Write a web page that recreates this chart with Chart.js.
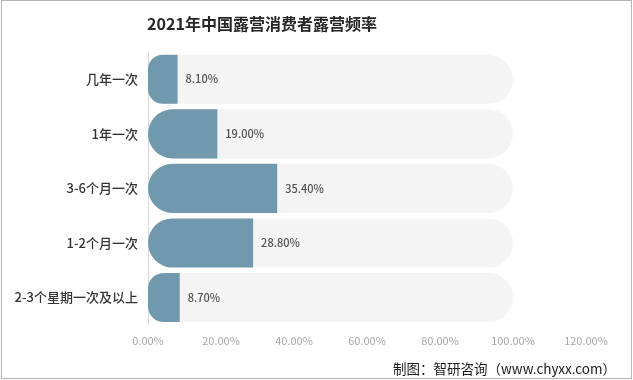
<!DOCTYPE html>
<html lang="zh">
<head>
  <meta charset="UTF-8">
  <title>2021年中国露营消费者露营频率</title>
  <script src="https://cdn.jsdelivr.net/npm/chart.js"></script>
  <style>
    body { margin: 0; padding: 0; background: #fff; }
    .wrap { width: 633px; height: 380px; position: relative; }
  </style>
</head>
<body>
  <div class="wrap"><canvas id="freqChart"></canvas></div>

  <script>
    const categories = ['几年一次', '1年一次', '3-6个月一次', '1-2个月一次', '2-3个星期一次及以上'];
    const shares = [8.1, 19.0, 35.4, 28.8, 8.7];
    const trackValues = [100, 100, 100, 100, 100];
    const xTicks = [0, 20, 40, 60, 80, 100, 120];

    const CJK = "'Noto Sans CJK SC', 'Noto Sans', sans-serif";

    // 회색 배경 트랙 + 막대 끝 값 표시 + 제목/출처/테두리
    const decor = {
      id: 'decor',
      beforeDatasetsDraw(chart) {
        const ctx = chart.ctx;
        const xs = chart.scales.x;
        const meta = chart.getDatasetMeta(0);
        ctx.save();
        ctx.fillStyle = '#f4f4f4';
        meta.data.forEach((bar, i) => {
          const x0 = xs.getPixelForValue(0);
          const x1 = xs.getPixelForValue(trackValues[i]);
          const h = bar.height;
          ctx.beginPath();
          ctx.roundRect(x0, bar.y - h / 2, x1 - x0, h, h / 2);
          ctx.fill();
        });
        ctx.restore();
      },
      afterDatasetsDraw(chart) {
        const ctx = chart.ctx;
        const meta = chart.getDatasetMeta(0);
        ctx.save();
        ctx.font = '500 11px ' + CJK;
        ctx.fillStyle = '#505050';
        ctx.textAlign = 'left';
        ctx.textBaseline = 'middle';
        meta.data.forEach((bar, i) => {
          ctx.fillText(shares[i].toFixed(2) + '%', bar.x + 8, bar.y);
        });
        ctx.restore();
      },
      afterDraw(chart) {
        const ctx = chart.ctx;
        ctx.save();
        ctx.fillStyle = '#262626';
        ctx.textAlign = 'center';
        ctx.textBaseline = 'middle';
        ctx.font = 'bold 16px ' + CJK;
        ctx.fillText('2021年中国露营消费者露营频率', 262, 24);

        ctx.textAlign = 'right';
        ctx.fillStyle = '#1a1a1a';
        ctx.font = '13.5px ' + CJK;
        ctx.fillText('制图：智研咨询（www.chyxx.com）', 616, 369);

        ctx.strokeStyle = '#b4b4b4';
        ctx.lineWidth = 1;
        ctx.strokeRect(1.5, 0.5, 630, 378);
        ctx.restore();
      }
    };

    new Chart(document.getElementById('freqChart'), {
      type: 'bar',
      data: {
        labels: categories,
        datasets: [
          {
            data: shares,
            backgroundColor: '#7199ae',
            borderSkipped: 'end',
            borderRadius: 40,
            barPercentage: 0.9,
            categoryPercentage: 1.0
          }
        ]
      },
      options: {
        indexAxis: 'y',
        responsive: true,
        maintainAspectRatio: false,
        animation: false,
        layout: { padding: { top: 52, right: 47, bottom: 24, left: 0 } },
        plugins: {
          legend: { display: false },
          tooltip: { enabled: false }
        },
        scales: {
          x: {
            min: 0,
            max: 120,
            afterBuildTicks: (scale) => { scale.ticks = xTicks.map(v => ({ value: v })); },
            grid: { display: false, drawTicks: false },
            border: { display: false },
            ticks: {
              padding: 9,
              color: '#a6a6a6',
              font: { size: 11, family: CJK },
              callback: (v) => v.toFixed(2) + '%'
            }
          },
          y: {
            grid: { display: false, drawTicks: false },
            border: { display: true, color: '#d9d9d9' },
            afterFit: (scale) => { scale.width = 148; },
            ticks: {
              padding: 10,
              color: '#333333',
              font: { size: 13, weight: '500', family: CJK }
            }
          }
        }
      },
      plugins: [decor]
    });
  </script>
</body>
</html>
